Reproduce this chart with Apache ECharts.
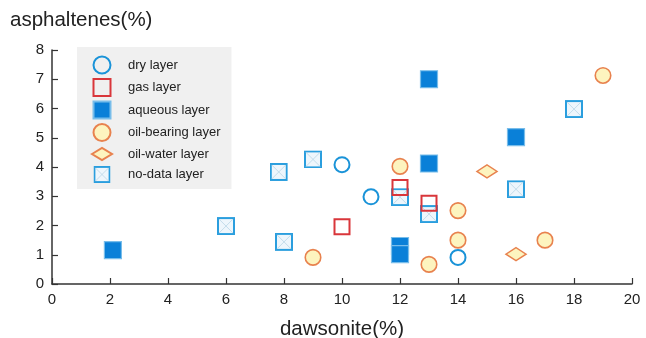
<!DOCTYPE html>
<html>
<head>
<meta charset="utf-8">
<script src="https://cdn.jsdelivr.net/npm/echarts@6/dist/echarts.min.js"></script>
<style>
html,body{margin:0;padding:0;background:#fff;}
#chart{width:646px;height:338px;}
</style>
</head>
<body>
<div id="chart"></div>
<script>
// ---- data (x = dawsonite %, y = asphaltenes %) ----
var seriesNames = ['dry layer', 'gas layer', 'aqueous layer', 'oil-bearing layer', 'oil-water layer', 'no-data layer'];
var xTicks = [0, 2, 4, 6, 8, 10, 12, 14, 16, 18, 20];
var yTicks = [0, 1, 2, 3, 4, 5, 6, 7, 8];
var dryLayer = [[10, 4.08], [11, 2.98], [14, 0.91]];
var gasLayer = [[10, 1.96], [12, 3.3], [13, 2.76]];
var aqueousLayer = [[2.1, 1.16], [13, 7.0], [13, 4.12], [16, 5.02], [12, 1.3], [12, 1.02]];
var oilBearingLayer = [[9, 0.91], [12, 4.02], [13, 0.67], [14, 2.51], [14, 1.5], [17, 1.5], [19, 7.13]];
var oilWaterLayer = [[15, 3.85], [16, 1.02]];
var noDataLayer = [[6, 1.98], [7.82, 3.83], [8, 1.44], [9, 4.26], [12, 2.97], [13, 2.39], [16, 3.24], [18, 5.98]];

var FONT = '"Liberation Sans", Arial, Helvetica, sans-serif';
var svg = "<svg xmlns='http://www.w3.org/2000/svg' width='36' height='36' viewBox='0 0 36 36'>" +
  "<rect x='2' y='2' width='32' height='32' fill='#eef6fc' stroke='#2a9ede' stroke-width='4'/>" +
  "<path d='M4 4L32 32M32 4L4 32' stroke='#b9d5e6' stroke-width='1.6'/></svg>";
var noDataSymbol = 'image://data:image/svg+xml;charset=utf-8,' + encodeURIComponent(svg);
var squareSymbol = 'path://M0 0H10V10H0Z';
var diamondIcon = 'path://M0 6L10 0L20 6L10 12Z';

var legendData = seriesNames.map(function (n) {
  return n === 'oil-water layer' ? {name: n, icon: diamondIcon} : {name: n};
});

var chart = echarts.init(document.getElementById('chart'), null, {renderer: 'canvas'});
chart.setOption({
  animation: false,
  textStyle: {fontFamily: FONT},
  title: {
    text: 'asphaltenes(%)', left: 5, top: 5,
    textStyle: {fontSize: 20.5, fontWeight: 'normal', color: '#222', fontFamily: FONT}
  },
  grid: {left: 52, right: 14, top: 50, bottom: 54, containLabel: false, outerBoundsMode: 'none'},
  legend: {
    orient: 'vertical', left: 77, top: 47,
    padding: [8.5, 11, 6, 14],
    backgroundColor: '#f0f0f0',
    itemWidth: 20, itemHeight: 17, itemGap: 3.5,
    symbolKeepAspect: true,
    textStyle: {fontSize: 13, lineHeight: 17, color: '#222', fontFamily: FONT, padding: [0, 0, 0, 11]},
    data: legendData
  },
  xAxis: {
    type: 'value', min: 0, max: 20, interval: 2,
    name: 'dawsonite(%)', nameLocation: 'middle', nameGap: 35,
    nameTextStyle: {fontSize: 20.5, color: '#222', fontFamily: FONT},
    axisLine: {lineStyle: {color: '#333', width: 1.5}},
    axisTick: {inside: true, length: 6, lineStyle: {color: '#333', width: 1.2}},
    axisLabel: {fontSize: 15, color: '#222', margin: 8, fontFamily: FONT},
    splitLine: {show: false}
  },
  yAxis: {
    type: 'value', min: 0, max: 8, interval: 1,
    axisLine: {show: true, lineStyle: {color: '#333', width: 1.5}},
    axisTick: {show: true, inside: true, length: 6, lineStyle: {color: '#333', width: 1.2}},
    axisLabel: {fontSize: 15, color: '#222', margin: 8, fontFamily: FONT},
    splitLine: {show: false}
  },
  series: [
    {
      name: 'no-data layer', type: 'scatter', data: noDataLayer,
      symbol: noDataSymbol, symbolSize: 18, symbolKeepAspect: true,
      itemStyle: {opacity: 1}
    },
    {
      name: 'aqueous layer', type: 'scatter', data: aqueousLayer,
      symbol: squareSymbol, symbolSize: 17, symbolKeepAspect: true,
      itemStyle: {color: '#0a80d8', borderColor: '#78bdea', borderWidth: 1.2, opacity: 1}
    },
    {
      name: 'dry layer', type: 'scatter', data: dryLayer,
      symbol: 'circle', symbolSize: 15, symbolKeepAspect: true,
      itemStyle: {color: 'rgba(255,255,255,0)', borderColor: '#1a93d8', borderWidth: 2, opacity: 1}
    },
    {
      name: 'gas layer', type: 'scatter', data: gasLayer,
      symbol: squareSymbol, symbolSize: 15, symbolKeepAspect: true,
      itemStyle: {color: 'rgba(255,255,255,0)', borderColor: '#d9363b', borderWidth: 2, opacity: 1}
    },
    {
      name: 'oil-bearing layer', type: 'scatter', data: oilBearingLayer,
      symbol: 'circle', symbolSize: 15.5, symbolKeepAspect: true,
      itemStyle: {color: '#fdf4bf', borderColor: '#e8824e', borderWidth: 1.6, opacity: 1}
    },
    {
      name: 'oil-water layer', type: 'scatter', data: oilWaterLayer,
      symbol: 'diamond', symbolSize: [20, 13],
      itemStyle: {color: '#fdf4bf', borderColor: '#e8824e', borderWidth: 1.6, opacity: 1}
    }
  ]
});
</script>
</body>
</html>
